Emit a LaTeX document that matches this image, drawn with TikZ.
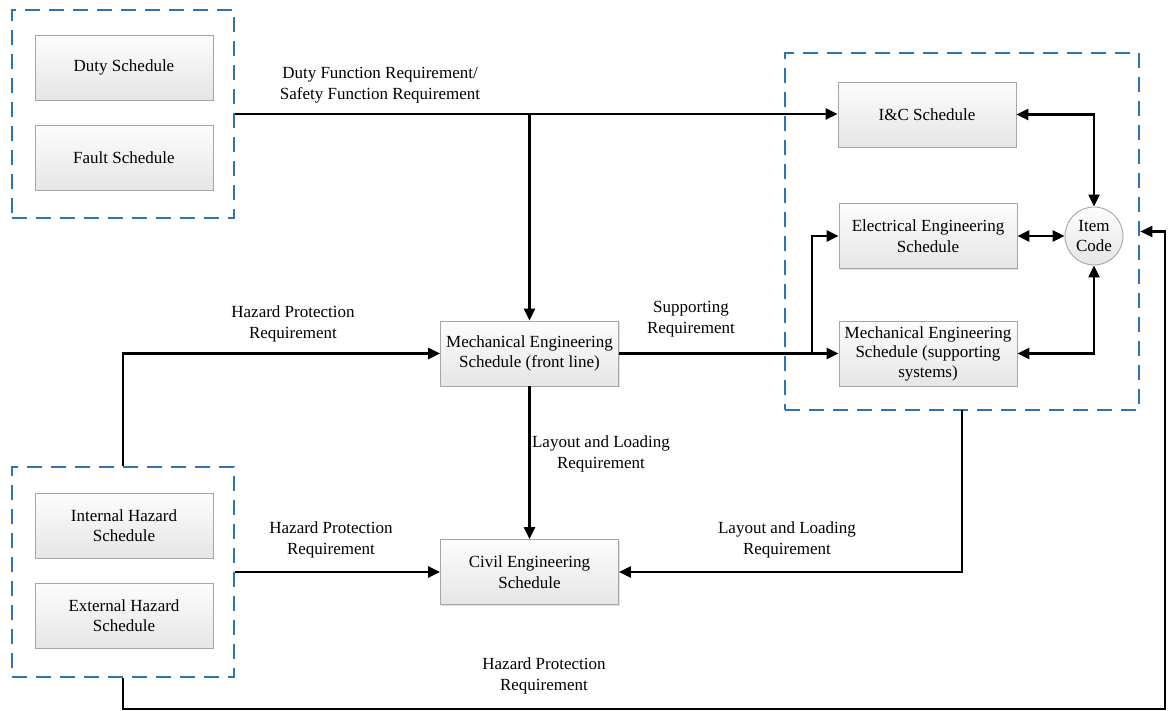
\documentclass[tikz,border=0pt]{standalone}
\usepackage{fontspec}
\setmainfont{Liberation Serif}
\usetikzlibrary{arrows.meta,shadows,fit}
\definecolor{dashblue}{RGB}{46,117,182}
\newcommand{\fs}{\fontsize{17}{20.5}\selectfont}
\tikzset{
  sched/.style={draw=gray!70, line width=0.9pt, top color=gray!2, bottom color=gray!20,
    minimum width=178pt, minimum height=65pt, align=center, inner sep=1pt, font=\fs,
    drop shadow={shadow xshift=1.2pt, shadow yshift=-1.2pt, opacity=0.25}},
  itemc/.style={circle, draw=gray!70, line width=0.9pt, top color=gray!2, bottom color=gray!20,
    minimum size=58pt, align=center, inner sep=0pt, font=\fs},
  grp/.style={draw=dashblue, line width=2.6pt, dash pattern=on 15pt off 9pt, inner sep=0pt},
  flow/.style={line width=2.4pt, -{Triangle[length=12pt,width=11pt]}},
  flowboth/.style={line width=2.4pt, {Triangle[length=12pt,width=11pt]}-{Triangle[length=12pt,width=11pt]}},
  lbl/.style={align=center, font=\fs, inner sep=0pt}
}
\begin{document}
\begin{tikzpicture}[x=1pt,y=-1pt]
\useasboundingbox (0,0) rectangle (1168,711);

% schedules
\node[sched] (duty)  at (124,67.5)  {Duty Schedule};
\node[sched] (fault) at (124,157.5) {Fault Schedule};
\node[sched] (inth)  at (124,525.5) {Internal Hazard\\Schedule};
\node[sched] (exth)  at (124,615.5) {External Hazard\\Schedule};
\node[sched] (mechf) at (529.5,353.5) {Mechanical Engineering\\Schedule (front line)};
\node[sched] (civil) at (529.5,572) {Civil Engineering\\Schedule};
\node[sched] (ic)    at (927,114.5) {I\&C Schedule};
\node[sched] (elec)  at (928,236)   {Electrical Engineering\\Schedule};
\node[sched, font=\fontsize{17}{19.5}\selectfont] (mechs) at (928,353.5) {Mechanical Engineering\\Schedule (supporting\\systems)};
\node[itemc] (item)  at (1094,236) {Item\\Code};

% dashed groups
\coordinate (g1a) at (12,10);   \coordinate (g1b) at (234,218);
\coordinate (g2a) at (12,467);  \coordinate (g2b) at (234,677);
\coordinate (g3a) at (785,53);  \coordinate (g3b) at (1139,410);
\node[grp, fit=(g1a)(g1b)] (g1) {};
\node[grp, fit=(g2a)(g2b)] (g2) {};
\node[grp, fit=(g3a)(g3b)] (g3) {};

% connector helpers
\coordinate (j1) at (g1.east -| mechf.north);
\coordinate (b1) at (812,353.5);
\coordinate (o1) at (962,410);
\coordinate (c1) at (1165,709);

% connectors
\draw[flow] (g1.east) -- (g1.east -| ic.west);
\draw[flow] (j1) -- (mechf.north);
\draw[flow] (g2.north) |- (mechf.west);
\draw[flow] (g2.east) -- (civil.west);
\draw[flow] (mechf.south) -- (civil.north);
\draw[flow] (mechf.east) -- (mechs.west);
\draw[flow] (b1) |- (elec.west);
\draw[flowboth] (ic.east) -| (item.north);
\draw[flowboth] (elec.east) -- (item.west);
\draw[flowboth] (mechs.east) -| (item.south);
\draw[flow] (o1) |- (civil.east);
\draw[flow] (g2.south) |- (c1) |- (g3.east);

% labels
\node[lbl] (l1) at (380,85)  {Duty Function Requirement/\\Safety Function Requirement};
\node[lbl] (l2) at (293,324) {Hazard Protection\\Requirement};
\node[lbl] (l3) at (691,319) {Supporting\\Requirement};
\node[lbl] (l4) at (601,454) {Layout and Loading\\Requirement};
\node[lbl] (l5) at (331,540) {Hazard Protection\\Requirement};
\node[lbl] (l6) at (787,540) {Layout and Loading\\Requirement};
\node[lbl] (l7) at (544,676) {Hazard Protection\\Requirement};
\end{tikzpicture}
\end{document}
